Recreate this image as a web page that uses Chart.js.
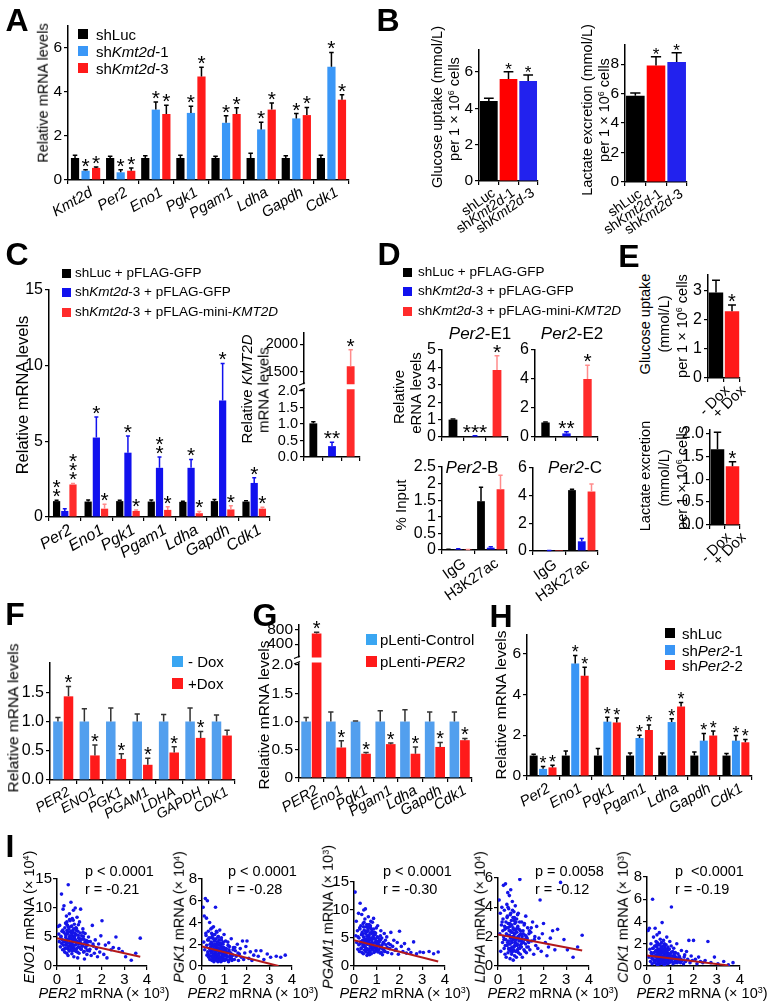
<!DOCTYPE html>
<html>
<head>
<meta charset="utf-8">
<script src="https://cdn.jsdelivr.net/npm/chart.js@4.4.1/dist/chart.umd.min.js"></script>
<style>
  body { margin:0; width:772px; height:1007px; position:relative; overflow:hidden; background:#fff;
         font-family:"Liberation Sans", Arial, Helvetica, sans-serif; }
  canvas { position:absolute; }
  .t { position:absolute; white-space:nowrap; color:#000; line-height:1; }
  .sq { position:absolute; }
  sup { font-size:0.62em; vertical-align:0.5em; line-height:0; }
</style>
</head>
<body>
<script>
// ---------------- data ----------------
// A
const aGenes = ['Kmt2d','Per2','Eno1','Pgk1','Pgam1','Ldha','Gapdh','Cdk1'];
const aLuc = [1,1,1,1,1,1,1,1];
const aLucErr = [0.12,0.08,0.1,0.12,0.08,0.22,0.1,0.12];
const aSh1 = [0.42,0.35,3.2,3.05,2.6,2.3,2.8,5.15];
const aSh1Err = [0.05,0.12,0.35,0.3,0.32,0.32,0.22,0.65];
const aSh3 = [0.55,0.42,3.0,4.7,3.0,3.2,2.95,3.65];
const aSh3Err = [0.04,0.12,0.4,0.42,0.28,0.3,0.35,0.22];
const aStars = ['*','*','*','*','*','*','*','*'];
const aTicks = [0,2,4,6];

// B
const bGroups = ['shLuc','sh_Kmt2d_-1','sh_Kmt2d_-3'];
const bGlucose = [4.4,5.6,5.5];
const bGlucoseErr = [0.15,0.4,0.32];
const bLactate = [5.85,7.9,8.15];
const bLactateErr = [0.2,0.6,0.62];
const bStars = ['','*','*'];

// C
const cGenes = ['Per2','Eno1','Pgk1','Pgam1','Ldha','Gapdh','Cdk1'];
const cGfp = [1.05,1.02,1.05,1.02,1.0,1.05,1.02];
const cGfpErr = [0.05,0.1,0.05,0.1,0.04,0.1,0.05];
const cKd = [0.4,5.25,4.25,3.25,3.25,7.7,2.25];
const cKdErr = [0.15,1.35,1.1,0.72,0.55,2.45,0.35];
const cRescue = [2.15,0.55,0.4,0.47,0.25,0.5,0.55];
const cRescueErr = [0.07,0.3,0.07,0.2,0.12,0.25,0.1];
const cGfpStars = ['**','','','','','',''];
const cKdStars = ['','*','*','**','*','*','*'];
const cRescueStars = ['***','*','*','*','*','*','*'];
const cKmt2d = [1.02,0.33,1600];
const cKmt2dErr = [0.05,0.12,300];
const cKmt2dStars = ['','**','*'];
const cKmt2dTicks = [0,0.5,1,1.5,2,1500,2000];
const cKmt2dTickLabels = ['0.0','0.5','1.0','1.5','2.0','1500','2000'];

// D
const dE1 = [1.0,0.05,3.85];
const dE1Err = [0.03,0.02,0.82];
const dE1Stars = ['','***','*'];
const dE2 = [1.0,0.25,4.0];
const dE2Err = [0.03,0.12,0.95];
const dE2Stars = ['','**','*'];
const dChip = ['IgG','H3K27ac'];
const dBGfp = [0.02,1.47], dBGfpErr = [0.005,0.42];
const dBKd = [0.03,0.07], dBKdErr = [0.01,0.03];
const dBRescue = [0.01,1.83], dBRescueErr = [0.005,0.42];
const dCGfp = [0.02,4.4], dCGfpErr = [0,0.07];
const dCKd = [0.03,0.7], dCKdErr = [0.01,0.2];
const dCRescue = [0.01,4.3], dCRescueErr = [0,0.55];

// E
const eDox = ['- Dox','+ Dox'];
const eGlucose = [2.95,2.3], eGlucoseErr = [0.42,0.22];
const eLactate = [1.65,1.28], eLactateErr = [0.37,0.1];
const eStars = ['','*'];

// F
const fGenes = ['PER2','ENO1','PGK1','PGAM1','LDHA','GAPDH','CDK1'];
const fMinus = [1,1,1,1,1,1,1];
const fMinusErr = [0.07,0.22,0.23,0.13,0.12,0.23,0.11];
const fPlus = [1.43,0.42,0.36,0.26,0.47,0.72,0.76];
const fPlusErr = [0.17,0.18,0.09,0.11,0.1,0.11,0.09];
const fStars = ['*','*','*','*','*','*',''];

// G
const gGenes = ['PER2','Eno1','Pgk1','Pgam1','Ldha','Gapdh','Cdk1'];
const gCtrl = [1,1,1,1,1,1,1];
const gCtrlErr = [0.07,0.17,0.01,0.19,0.21,0.17,0.17];
const gPer2 = [700,0.54,0.43,0.6,0.43,0.55,0.67];
const gPer2Err = [40,0.12,0.02,0.02,0.12,0.08,0.03];
const gStars = ['*','*','*','*','*','*','*'];
const gTicks = [0,0.5,1,1.5,2,400,800];
const gTickLabels = ['0','0.5','1.0','1.5','2.0','400','800'];

// H
const hGenes = ['Per2','Eno1','Pgk1','Pgam1','Ldha','Gapdh','Cdk1'];
const hLuc = [1,1,1,1,1,1,1];
const hLucErr = [0.07,0.22,0.35,0.12,0.12,0.18,0.1];
const hSh1 = [0.35,5.5,2.66,1.86,2.64,1.73,1.73];
const hSh1Err = [0.12,0.4,0.22,0.14,0.16,0.35,0.25];
const hSh2 = [0.42,4.9,2.62,2.25,3.4,1.98,1.65];
const hSh2Err = [0.1,0.42,0.22,0.24,0.2,0.22,0.14];
const hStars = ['*','*','*','*','*','*','*'];

// I  (PER2 per sample, x 10^3) and target genes, same sample order in every list
const iPer2 = [
  0.05,0.08,0.1,0.12,0.15,0.17,0.2,0.22,0.24,0.25,
  0.27,0.28,0.3,0.31,0.33,0.34,0.35,0.36,0.38,0.39,
  0.4,0.41,0.42,0.43,0.44,0.45,0.46,0.47,0.48,0.49,
  0.5,0.51,0.52,0.53,0.54,0.55,0.56,0.57,0.58,0.59,
  0.6,0.61,0.62,0.63,0.64,0.65,0.66,0.67,0.68,0.69,
  0.7,0.71,0.72,0.73,0.74,0.75,0.76,0.77,0.78,0.79,
  0.8,0.81,0.82,0.84,0.85,0.86,0.88,0.89,0.9,0.92,
  0.93,0.95,0.96,0.98,1.0,1.02,1.04,1.05,1.07,1.1,
  1.12,1.15,1.18,1.2,1.22,1.25,1.28,1.3,1.33,1.36,
  1.4,1.44,1.48,1.52,1.57,1.62,1.66,1.7,1.75,1.8,
  1.85,1.9,1.95,2.0,2.08,2.15,2.22,2.3,2.4,2.5,
  2.62,2.75,2.9,3.05,3.3,3.5,3.7,
  0.18,0.21,0.26,0.29,0.32,0.37,0.4,0.42,0.45,0.47,
  0.5,0.52,0.53,0.55,0.57,0.58,0.6,0.62,0.63,0.65,
  0.66,0.68,0.7,0.71,0.73,0.75,0.76,0.78,0.8,0.82,
  0.83,0.85,0.87,0.9,0.91,0.94,0.97,0.99,1.01,1.03,
  1.06,1.08,1.11,1.14,1.17,1.21,1.24,1.27,1.31,1.35,
  0.44,0.56,0.64,0.72,0.86,0.95,1.16,1.38,1.46,1.6];
const iEno1 = [
  6.8,5.5,4.2,7.0,3.3,5.0,12.4,6.0,4.5,2.8,
  9.8,3.6,5.8,10.4,4.2,2.4,6.6,3.1,7.4,4.9,
  5.2,3.8,8.6,2.2,6.1,4.4,3.0,7.0,5.6,1.8,
  14.0,4.6,3.4,6.4,2.6,9.0,5.0,3.9,7.8,4.1,
  5.9,2.9,11.0,4.7,3.5,6.9,2.1,5.3,8.2,3.7,
  4.3,6.2,3.2,9.6,5.1,1.6,4.8,7.2,2.7,5.7,
  3.6,10.0,4.5,6.6,2.5,5.4,3.0,8.4,4.0,1.4,
  6.0,3.3,4.8,2.2,7.6,4.4,3.8,9.8,2.9,5.2,
  3.5,6.4,2.4,4.6,1.2,5.6,3.1,4.0,2.0,3.6,
  5.0,2.6,4.2,1.8,7.0,3.4,2.2,4.5,3.0,1.6,
  3.8,2.4,5.2,7.8,2.0,3.6,1.4,4.0,2.8,3.2,
  5.0,3.0,2.5,1.6,1.0,2.2,4.8,
  5.1,3.9,6.2,4.4,2.9,5.5,3.6,7.2,4.0,5.9,
  3.3,6.7,4.6,2.7,5.2,3.8,4.9,6.0,3.1,5.6,
  4.1,2.6,5.8,3.5,4.7,6.4,3.0,5.0,4.3,2.8,
  5.4,3.7,6.1,4.2,2.4,5.3,3.9,4.8,3.2,5.7,
  4.0,2.9,4.6,3.4,5.1,2.5,4.1,3.3,4.4,2.7,
  7.6,8.0,6.8,7.9,6.5,7.1,5.8,4.2,2.9,3.8];
const iPgk1 = [
  5.4,2.2,4.6,1.5,6.2,3.0,4.4,1.0,6.0,2.4,
  1.2,3.2,0.8,2.6,1.6,4.0,0.6,2.0,1.4,3.4,
  2.2,0.9,1.8,3.0,0.5,2.6,1.3,2.8,0.7,1.9,
  1.1,3.6,1.6,0.4,2.3,1.0,2.9,1.5,0.6,2.0,
  5.4,1.2,0.8,2.5,1.7,0.5,3.1,1.4,0.9,2.2,
  1.6,0.4,2.7,1.1,0.7,1.9,2.4,0.5,1.3,3.3,
  0.8,1.5,2.1,0.4,1.2,2.6,0.9,1.7,0.5,1.4,
  2.0,0.7,1.1,2.9,0.5,1.6,1.0,2.3,0.6,1.3,
  0.9,2.2,0.4,1.5,1.8,0.7,1.2,2.5,0.5,1.0,
  1.7,0.6,1.4,0.9,2.0,0.5,1.1,1.6,0.8,2.3,
  0.6,1.2,1.8,2.3,0.7,1.3,0.5,1.0,1.4,0.9,
  1.4,0.6,1.1,0.8,0.9,0.8,1.0,
  2.8,1.9,1.3,2.4,1.0,1.7,2.6,1.2,2.1,0.8,
  1.5,2.5,1.0,1.9,0.7,2.3,1.3,0.9,1.8,1.1,
  2.0,0.6,1.4,2.2,1.0,1.6,0.8,1.3,2.0,0.7,
  1.2,1.8,0.6,1.5,1.1,0.9,1.7,1.2,0.6,1.4,
  1.0,1.6,0.8,1.2,0.5,1.3,0.9,1.1,0.7,1.0,
  3.5,2.9,3.2,2.7,2.4,2.2,1.9,1.5,1.7,1.2];
const iPgam1 = [
  13.2,5.4,8.0,4.2,6.3,3.0,9.4,5.0,2.6,6.8,
  11.2,4.0,7.2,3.2,5.6,9.2,2.4,6.0,4.6,3.6,
  7.6,2.2,5.2,10.0,3.8,6.4,2.8,4.4,8.4,3.4,
  10.2,5.8,2.5,4.8,7.0,3.1,6.1,1.9,4.3,5.4,
  3.9,6.6,2.3,8.8,4.5,3.0,5.5,7.4,2.0,4.1,
  5.0,2.6,6.9,3.5,8.0,4.7,2.2,5.8,3.3,6.2,
  4.2,7.8,2.9,5.3,3.6,8.5,2.4,4.9,6.0,3.2,
  5.6,2.7,4.4,6.8,3.0,4.0,7.2,2.5,5.0,3.7,
  4.6,2.3,6.3,3.4,5.0,2.0,4.2,3.0,5.8,2.6,
  3.8,5.2,2.4,4.0,3.1,6.0,2.2,3.5,4.6,2.8,
  3.0,4.2,2.1,6.2,3.5,2.6,4.0,2.3,3.0,2.4,
  4.3,2.2,2.5,2.4,2.6,2.2,2.5,
  5.2,3.8,6.6,4.3,3.1,5.7,4.0,7.0,3.5,4.8,
  3.3,6.1,4.5,2.8,5.3,3.9,4.7,6.3,3.0,5.1,
  4.2,2.7,5.9,3.6,4.9,6.6,3.2,4.6,4.0,2.9,
  5.0,3.4,5.8,4.1,2.6,4.8,3.6,4.4,3.1,5.2,
  3.9,2.8,4.3,3.2,4.7,2.4,3.8,3.0,4.1,2.6,
  7.8,7.4,6.9,7.2,6.6,5.9,5.4,4.6,3.3,3.8];
const iLdha = [
  4.5,2.2,3.6,1.0,2.8,4.0,1.6,3.2,5.5,2.0,
  1.2,3.8,2.5,0.8,5.6,1.8,3.0,0.6,2.6,4.2,
  1.4,3.4,2.1,5.0,0.9,2.9,1.7,3.9,1.1,2.4,
  4.8,1.5,2.7,0.5,3.5,1.9,5.2,1.2,2.3,3.1,
  0.8,2.8,1.6,4.4,2.0,1.0,3.3,0.4,2.5,1.8,
  3.7,1.3,2.2,0.7,2.9,1.6,4.1,1.0,2.4,3.0,
  1.9,0.6,3.2,1.4,2.6,1.1,2.0,3.6,0.9,1.7,
  2.5,1.2,5.9,0.8,2.2,1.5,3.0,1.8,0.6,2.4,
  1.6,2.8,1.0,2.1,3.4,0.9,1.9,2.6,1.3,2.2,
  1.1,2.3,1.7,3.0,0.8,2.0,1.4,2.7,1.2,1.9,
  4.5,1.0,2.2,2.9,1.6,0.7,1.3,1.9,2.4,1.1,
  2.5,5.7,1.8,1.1,0.6,1.3,2.1,
  3.0,2.4,1.8,2.7,1.4,2.2,3.3,1.6,2.6,1.2,
  2.1,2.9,1.5,2.4,1.0,2.8,1.7,1.3,2.3,1.9,
  2.6,1.1,2.0,3.1,1.4,2.2,1.6,2.5,1.8,1.0,
  2.3,1.5,2.7,1.2,1.9,2.1,1.4,2.4,1.7,1.3,
  2.0,1.6,2.2,1.1,1.8,1.5,2.0,1.3,1.7,1.6,
  4.0,3.6,3.8,3.3,3.5,3.0,2.9,2.4,2.6,1.8];
const iCdk1 = [
  3.2,0.8,3.4,1.5,0.4,2.0,1.1,0.2,6.0,1.6,
  0.6,2.6,1.2,0.3,1.8,0.9,3.4,0.5,1.4,2.2,
  1.0,0.2,1.7,2.8,0.7,1.3,0.1,2.0,0.9,1.5,
  0.4,1.9,1.1,3.0,0.6,1.4,0.2,2.4,1.0,0.5,
  1.6,0.3,2.1,0.8,1.2,3.9,0.5,1.5,0.2,1.8,
  0.9,2.3,0.4,1.3,0.7,2.0,0.1,1.1,1.6,0.6,
  1.4,0.3,1.9,0.8,2.6,0.5,1.2,0.2,1.7,0.9,
  0.6,1.5,0.3,2.2,1.0,0.4,1.8,5.3,0.7,1.3,
  0.2,1.6,0.9,0.4,1.2,0.6,2.0,0.3,1.1,0.5,
  0.8,0.3,1.4,0.5,0.2,1.0,0.4,1.3,0.6,2.3,
  0.3,0.9,0.5,2.3,0.6,0.2,0.8,0.4,0.3,0.5,
  2.2,0.3,0.8,0.2,0.4,0.1,0.3,
  1.2,0.7,1.6,0.9,0.4,1.3,0.8,1.9,0.5,1.1,
  0.3,1.5,0.9,0.6,1.2,0.4,1.0,1.7,0.6,1.3,
  0.8,0.3,1.4,0.7,1.1,1.8,0.5,0.9,1.2,0.4,
  1.0,0.6,1.5,0.8,0.3,1.1,0.7,0.9,0.5,1.2,
  0.6,0.4,0.9,0.7,1.0,0.3,0.8,0.5,0.7,0.4,
  2.1,1.9,1.6,1.8,1.4,1.5,1.2,0.9,0.6,0.8];
// regression lines: [x0, y0, x1, y1]
const iFitEno1 = [0,4.8,3.7,1.6];
const iFitPgk1 = [0,1.8,3.4,0];
const iFitPgam1 = [0,4.6,3.7,0.8];
const iFitLdha = [0,2.15,3.7,1.05];
const iFitCdk1 = [0,0.95,3.5,0.05];

// ---------------- helpers ----------------
const FONT = '"Liberation Sans", Arial, Helvetica, sans-serif';
Chart.defaults.font.family = FONT;
Chart.defaults.color = '#000';

const BLACK = '#000000', RED = '#ff1a1a';
const A_BLUE = '#3a97f7', B_BLUE = '#2222ee', B_RED = '#ff0000';
const C_BLUE = '#1111ee', C_RED = '#ff2b2b', PINK = '#ff8c8c';
const F_BLUE = '#529fee', H_BLUE = '#3995f5';

const it = g => '_' + g + '_';
const pick = (v, j) => Array.isArray(v) ? v[j] : v;

function richSegs(s) {
  const out = []; let ital = false, sup = false, cur = '';
  for (const ch of s) {
    if (ch === '_' || ch === '^') {
      if (cur) out.push({t: cur, ital, sup});
      cur = '';
      if (ch === '_') ital = !ital; else sup = !sup;
    } else cur += ch;
  }
  if (cur) out.push({t: cur, ital, sup});
  return out;
}

function drawRich(ctx, s, x, y, size, angle) {
  const segs = richSegs(s);
  ctx.save();
  ctx.translate(x, y);
  ctx.rotate(-angle * Math.PI / 180);
  ctx.textBaseline = 'top';
  ctx.fillStyle = '#000';
  const font = g => (g.ital ? 'italic ' : '') + (g.sup ? size * 0.62 : size) + 'px ' + FONT;
  const ws = segs.map(g => { ctx.font = font(g); return ctx.measureText(g.t).width; });
  let cx = -ws.reduce((a, b) => a + b, 0);
  segs.forEach((g, i) => { ctx.font = font(g); ctx.fillText(g.t, cx, g.sup ? -size * 0.1 : 0); cx += ws[i]; });
  ctx.restore();
}

// asterisks sit a few pixels above the bar/error top
function drawStars(ctx, str, x, y, size, vert) {
  ctx.save();
  ctx.font = size + 'px ' + FONT;
  ctx.fillStyle = '#000';
  ctx.textAlign = 'center';
  ctx.textBaseline = 'alphabetic';
  const m = ctx.measureText('*');
  const desc = m.actualBoundingBoxDescent;
  const hgt = m.actualBoundingBoxAscent + desc;
  const base = y - 3 - desc;
  if (vert) for (let k = 0; k < str.length; k++) ctx.fillText('*', x, base - k * (hgt + 1));
  else ctx.fillText(str, x, base);
  ctx.restore();
}

// error bars, stars, axis breaks and rich category labels
const decor = {
  id: 'decor',
  afterDraw(chart) {
    const o = chart.canvas._o;
    if (!o) return;
    const ctx = chart.ctx, ys = chart.scales.y, xs = chart.scales.x, ca = chart.chartArea;
    const tf = o.tf || (v => v);
    if (o.brk != null) {
      const yb = ys.getPixelForValue(o.brk);
      ctx.save();
      ctx.fillStyle = '#fff';
      ctx.fillRect(ca.left - 1.5, yb - 2.5, ca.right - ca.left + 1.5, 5);
      ctx.strokeStyle = '#000'; ctx.lineWidth = 1.2;
      ctx.beginPath();
      ctx.moveTo(ca.left - 5, yb - 1.5); ctx.lineTo(ca.left + 1, yb - 4);
      ctx.moveTo(ca.left - 5, yb + 4); ctx.lineTo(ca.left + 1, yb + 1.5);
      ctx.stroke();
      ctx.restore();
    }
    (o.sets || []).forEach((s, di) => {
      const meta = chart.getDatasetMeta(di);
      meta.data.forEach((el, j) => {
        const v = s.v[j], e = s.e ? s.e[j] : 0;
        let top = el.y;
        if (e) {
          top = ys.getPixelForValue(tf(v + e));
          const cw = el.width * 0.55;
          ctx.save();
          ctx.strokeStyle = pick(s.ec || '#000', j);
          ctx.lineWidth = 1.5;
          ctx.beginPath();
          ctx.moveTo(el.x, el.y); ctx.lineTo(el.x, top);
          ctx.moveTo(el.x - cw / 2, top); ctx.lineTo(el.x + cw / 2, top);
          ctx.stroke();
          ctx.restore();
        }
        const st = s.s && s.s[j];
        if (st) drawStars(ctx, st, el.x, top, o.star || 20, o.vstars);
      });
    });
    if (o.xl) {
      const yl = ca.bottom + (o.xl.dy == null ? 5 : o.xl.dy);
      o.xl.labels.forEach((lab, i) =>
        drawRich(ctx, lab, xs.getPixelForValue(i) + (o.xl.dx || 0), yl, o.xl.size, o.xl.angle));
    }
  }
};

function mkCanvas(x, y, w, h) {
  const c = document.createElement('canvas');
  c.width = w; c.height = h;
  c.style.cssText = `left:${x}px;top:${y}px;width:${w}px;height:${h}px`;
  document.body.appendChild(c);
  return c;
}

function axisStyle() {
  return {
    grid: {drawOnChartArea: false, tickLength: 4, color: '#000', lineWidth: 1.2},
    border: {color: '#000', width: 1.5}
  };
}

function bars(o) {
  const pad = {l: 48, t: 16, r: 6, b: 64};
  const [l, t, r, b] = o.box;
  const w = r - l + pad.l + pad.r, h = b - t + pad.t + pad.b;
  const cv = mkCanvas(l - pad.l, t - pad.t, w, h);
  cv._o = o;
  const tf = o.tf || (v => v);
  const tl = o.tl || o.ticks.map(String);
  new Chart(cv, {
    type: 'bar',
    data: {
      labels: o.labels,
      datasets: o.sets.map(s => ({
        data: s.v.map(tf), backgroundColor: s.c, borderWidth: 0,
        categoryPercentage: o.cat, barPercentage: o.bar
      }))
    },
    options: {
      responsive: false, animation: false, events: [],
      layout: {padding: {top: pad.t, right: pad.r, left: 0, bottom: 0}},
      plugins: {legend: {display: false}, tooltip: {enabled: false}},
      scales: {
        x: Object.assign(axisStyle(), {
          ticks: {display: false},
          afterFit: s => { s.height = pad.b; }
        }),
        y: Object.assign(axisStyle(), {
          min: 0, max: o.max,
          ticks: {font: {size: o.tick || 15.5}, color: '#000', padding: 2, autoSkip: false,
                  callback: (v, i) => tl[i]},
          afterBuildTicks: s => { s.ticks = o.ticks.map(v => ({value: tf(v)})); },
          afterFit: s => { s.width = pad.l; }
        })
      }
    },
    plugins: [decor]
  });
}

function scatter(o) {
  const pad = {l: 34, t: 10, r: 8, b: 24};
  const [l, t, r, b] = o.box;
  const w = r - l + pad.l + pad.r, h = b - t + pad.t + pad.b;
  const cv = mkCanvas(l - pad.l, t - pad.t, w, h);
  const ax = axisStyle();
  new Chart(cv, {
    type: 'scatter',
    data: {
      datasets: [
        {data: iPer2.map((x, i) => ({x, y: o.y[i]})), backgroundColor: '#1414e8',
         pointRadius: 1.8, pointBorderWidth: 0, order: 1},
        {type: 'line', data: [{x: o.fit[0], y: o.fit[1]}, {x: o.fit[2], y: o.fit[3]}],
         borderColor: '#b3191b', borderWidth: 2, pointRadius: 0, order: 0}
      ]
    },
    options: {
      responsive: false, animation: false, events: [],
      layout: {padding: {top: pad.t, right: pad.r, left: 0, bottom: 0}},
      plugins: {legend: {display: false}, tooltip: {enabled: false}},
      scales: {
        x: {type: 'linear', min: 0, max: 4, grid: ax.grid, border: ax.border,
            ticks: {stepSize: 1, font: {size: 15}, color: '#000', padding: 1, maxRotation: 0},
            afterFit: s => { s.height = pad.b; }},
        y: {min: 0, max: o.max, grid: ax.grid, border: ax.border,
            ticks: {stepSize: o.step, font: {size: 15}, color: '#000', padding: 1},
            afterFit: s => { s.width = pad.l; }}
      }
    }
  });
}

function T(html, x, y, size, opt = {}) {
  const d = document.createElement('div');
  d.className = 't';
  d.innerHTML = html;
  d.style.left = x + 'px';
  d.style.top = y + 'px';
  d.style.fontSize = size + 'px';
  if (opt.bold) d.style.fontWeight = 'bold';
  d.style.transform = `translate(${opt.left ? '0' : '-50%'},-50%)` + (opt.rot ? ` rotate(${opt.rot}deg)` : '');
  document.body.appendChild(d);
}

function legend(sqX, txtX, rows, size, sq) {
  rows.forEach(([cy, color, html]) => {
    const s = document.createElement('div');
    s.className = 'sq';
    s.style.cssText = `left:${sqX}px;top:${cy - sq / 2}px;width:${sq}px;height:${sq}px;background:${color}`;
    document.body.appendChild(s);
    T(html, txtX, cy, size, {left: true});
  });
}

// ---------------- panel A ----------------
bars({box: [68, 26, 349, 180], max: 7, ticks: aTicks, labels: aGenes, cat: 0.9, bar: 0.78, star: 21,
  sets: [{v: aLuc, e: aLucErr, c: BLACK},
         {v: aSh1, e: aSh1Err, c: A_BLUE, s: aStars},
         {v: aSh3, e: aSh3Err, c: RED, s: aStars}],
  xl: {labels: aGenes.map(it), angle: 30, size: 15, dx: 2, dy: 5}});
legend(78, 96, [[34, BLACK, 'shLuc'], [51, A_BLUE, 'sh<i>Kmt2d</i>-1'], [68, RED, 'sh<i>Kmt2d</i>-3']], 15, 10);
T('Relative mRNA levels', 43, 93, 14.5, {rot: -90});

// ---------------- panel B ----------------
bars({box: [479, 50, 538, 181], max: 7.2, ticks: [0,2,4,6], labels: bGroups, cat: 1, bar: 0.9, star: 17,
  sets: [{v: bGlucose, e: bGlucoseErr, c: [BLACK, B_RED, B_BLUE], s: bStars}],
  xl: {labels: bGroups, angle: 35, size: 14, dx: 1, dy: 5}});
bars({box: [625, 45, 687, 182], max: 9.3, ticks: [0,2,4,6,8], labels: bGroups, cat: 1, bar: 0.9, star: 17,
  sets: [{v: bLactate, e: bLactateErr, c: [BLACK, B_RED, B_BLUE], s: bStars}],
  xl: {labels: bGroups, angle: 35, size: 14, dx: 1, dy: 5}});
T('Glucose uptake (mmol/L)', 437, 107, 14.5, {rot: -90});
T('per 1 × 10<sup>6</sup> cells', 454, 109, 14.5, {rot: -90});
T('Lactate excretion (mmol/L)', 587, 110, 14.5, {rot: -90});
T('per 1 × 10<sup>6</sup> cells', 604, 110, 14.5, {rot: -90});

// ---------------- panel C ----------------
bars({box: [49, 290, 270, 517], max: 15, ticks: [0,5,10,15], labels: cGenes, cat: 0.78, bar: 0.88,
  star: 21, vstars: true, tick: 16,
  sets: [{v: cGfp, e: cGfpErr, c: BLACK, s: cGfpStars},
         {v: cKd, e: cKdErr, c: C_BLUE, ec: C_BLUE, s: cKdStars},
         {v: cRescue, e: cRescueErr, c: C_RED, ec: PINK, s: cRescueStars}],
  xl: {labels: cGenes.map(it), angle: 30, size: 16, dx: 2, dy: 5}});
const cTf = v => v <= 2.1 ? v : 2.58 + (v - 1500) * 0.84 / 500;
bars({box: [304, 333, 360, 457], max: 3.76, tf: cTf, ticks: cKmt2dTicks, tl: cKmt2dTickLabels,
  labels: ['', '', ''], cat: 1, bar: 0.42, star: 21, tick: 14.5, brk: 2.13,
  sets: [{v: cKmt2d, e: cKmt2dErr, c: [BLACK, C_BLUE, C_RED], ec: ['#000', C_BLUE, PINK], s: cKmt2dStars}]});
legend(62, 75, [[273, BLACK, 'shLuc + pFLAG-GFP'], [292, C_BLUE, 'sh<i>Kmt2d</i>-3 + pFLAG-GFP'],
  [312, C_RED, 'sh<i>Kmt2d</i>-3 + pFLAG-mini-<i>KMT2D</i>']], 13.5, 9);
T('Relative mRNA levels', 22, 395, 16.5, {rot: -90});
T('Relative <i>KMT2D</i>', 246, 389, 15, {rot: -90});
T('mRNA levels', 263, 390, 15, {rot: -90});

// ---------------- panel D ----------------
const dCols = [BLACK, C_BLUE, C_RED], dErrCols = ['#000', C_BLUE, PINK];
bars({box: [442, 350, 508, 437], max: 5, ticks: [0,1,2,3,4,5], labels: ['', '', ''], cat: 1, bar: 0.4, star: 21, tick: 16,
  sets: [{v: dE1, e: dE1Err, c: dCols, ec: dErrCols, s: dE1Stars}]});
bars({box: [535, 350, 598, 437], max: 6, ticks: [0,2,4,6], labels: ['', '', ''], cat: 1, bar: 0.4, star: 21, tick: 16,
  sets: [{v: dE2, e: dE2Err, c: dCols, ec: dErrCols, s: dE2Stars}]});
bars({box: [442, 467, 507, 550], max: 2.5, ticks: [0,0.5,1,1.5,2,2.5], labels: dChip, cat: 0.9, bar: 0.8, tick: 16,
  sets: [{v: dBGfp, e: dBGfpErr, c: BLACK}, {v: dBKd, e: dBKdErr, c: C_BLUE, ec: C_BLUE},
         {v: dBRescue, e: dBRescueErr, c: C_RED, ec: PINK}],
  xl: {labels: dChip, angle: 35, size: 15, dx: 2, dy: 6}});
bars({box: [533, 468, 598, 551], max: 6, ticks: [0,2,4,6], labels: dChip, cat: 0.9, bar: 0.8, tick: 16,
  sets: [{v: dCGfp, e: dCGfpErr, c: BLACK}, {v: dCKd, e: dCKdErr, c: C_BLUE, ec: C_BLUE},
         {v: dCRescue, e: dCRescueErr, c: C_RED, ec: PINK}],
  xl: {labels: dChip, angle: 35, size: 15, dx: 2, dy: 6}});
legend(403, 418, [[272, BLACK, 'shLuc + pFLAG-GFP'], [291, C_BLUE, 'sh<i>Kmt2d</i>-3 + pFLAG-GFP'],
  [311, C_RED, 'sh<i>Kmt2d</i>-3 + pFLAG-mini-<i>KMT2D</i>']], 13.5, 9);
T('<i>Per2</i>-E1', 480, 333, 17);
T('<i>Per2</i>-E2', 572, 333, 17);
T('<i>Per2</i>-B', 472, 467, 17);
T('<i>Per2</i>-C', 575, 467, 17);
T('Relative', 398, 397, 15, {rot: -90});
T('eRNA levels', 415, 393, 15, {rot: -90});
T('% Input', 400, 505, 15, {rot: -90});

// ---------------- panel E ----------------
bars({box: [708, 275, 740, 378], max: 3.55, ticks: [0,1,2,3], labels: eDox, cat: 1, bar: 0.9, star: 20, tick: 16,
  sets: [{v: eGlucose, e: eGlucoseErr, c: [BLACK, RED], s: eStars}],
  xl: {labels: eDox, angle: 45, size: 15, dx: 6, dy: 5}});
bars({box: [710, 430, 740, 525], max: 2.07, ticks: [0,0.5,1,1.5,2], tl: ['0.0','0.5','1.0','1.5','2.0'],
  labels: eDox, cat: 1, bar: 0.9, star: 20, tick: 16,
  sets: [{v: eLactate, e: eLactateErr, c: [BLACK, RED], s: eStars}],
  xl: {labels: eDox, angle: 45, size: 15, dx: 6, dy: 5}});
T('Glucose uptake', 645, 324, 14.5, {rot: -90});
T('(mmol/L)', 664, 324, 14.5, {rot: -90});
T('per 1 × 10<sup>6</sup> cells', 682, 326, 14.5, {rot: -90});
T('Lactate excretion', 645, 476, 14.5, {rot: -90});
T('(mmol/L)', 664, 478, 14.5, {rot: -90});
T('per 1 × 10<sup>6</sup> cells', 682, 478, 14.5, {rot: -90});

// ---------------- panel F ----------------
bars({box: [50, 663, 235, 780], max: 2.0, ticks: [0,0.5,1,1.5], tl: ['0.0','0.5','1.0','1.5'], labels: fGenes,
  cat: 0.8, bar: 0.9, star: 20, tick: 16,
  sets: [{v: fMinus, e: fMinusErr, c: F_BLUE, ec: '#333'},
         {v: fPlus, e: fPlusErr, c: RED, ec: '#333', s: fStars}],
  xl: {labels: fGenes.map(it), angle: 30, size: 14, dx: 2, dy: 5}});
legend(172, 188, [[661, '#3aa6f2', '- Dox'], [683, RED, '+Dox']], 15, 11);
T('Relative mRNA levels', 13, 718, 15.5, {rot: -90});

// ---------------- panel G ----------------
const gTf = v => v <= 2.1 ? v : 2.37 + (v - 400) * 0.25 / 400;
bars({box: [299, 625, 472, 778], max: 2.71, tf: gTf, ticks: gTicks, tl: gTickLabels, labels: gGenes,
  cat: 0.85, bar: 0.92, star: 20, tick: 15.5, brk: 2.09,
  sets: [{v: gCtrl, e: gCtrlErr, c: F_BLUE, ec: '#333'},
         {v: gPer2, e: gPer2Err, c: RED, ec: '#333', s: gStars}],
  xl: {labels: gGenes.map(it), angle: 30, size: 15, dx: 2, dy: 5}});
legend(366, 380, [[639, '#3aa6f2', 'pLenti-Control'], [661, RED, 'pLenti-<i>PER2</i>']], 15, 11);
T('Relative mRNA levels', 264, 715, 15.5, {rot: -90});

// ---------------- panel H ----------------
bars({box: [527, 635, 752, 776], max: 6.9, ticks: [0,2,4,6], labels: hGenes, cat: 0.88, bar: 0.85, star: 18, tick: 15.5,
  sets: [{v: hLuc, e: hLucErr, c: BLACK},
         {v: hSh1, e: hSh1Err, c: H_BLUE, s: hStars},
         {v: hSh2, e: hSh2Err, c: RED, s: hStars}],
  xl: {labels: hGenes.map(it), angle: 30, size: 15, dx: 2, dy: 5}});
legend(665, 682, [[633, BLACK, 'shLuc'], [650, H_BLUE, 'sh<i>Per2</i>-1'], [665, RED, 'sh<i>Per2</i>-2']], 15, 10);
T('Relative mRNA levels', 501, 705, 15.5, {rot: -90});

// ---------------- panel I ----------------
scatter({box: [57, 879, 147, 966], y: iEno1, max: 15, step: 5, fit: iFitEno1});
scatter({box: [202, 879, 292, 966], y: iPgk1, max: 8, step: 2, fit: iFitPgk1});
scatter({box: [354, 882, 445, 966], y: iPgam1, max: 15, step: 5, fit: iFitPgam1});
scatter({box: [498, 878, 589, 966], y: iLdha, max: 6, step: 2, fit: iFitLdha});
scatter({box: [647, 877, 740, 966], y: iCdk1, max: 8, step: 2, fit: iFitCdk1});
const iYTitles = [['<i>ENO1</i> mRNA (× 10<sup>4</sup>)', 29], ['<i>PGK1</i> mRNA (× 10<sup>4</sup>)', 179],
  ['<i>PGAM1</i> mRNA (× 10<sup>3</sup>)', 328], ['<i>LDHA</i> mRNA (× 10<sup>4</sup>)', 480],
  ['<i>CDK1</i> mRNA (× 10<sup>3</sup>)', 623]];
iYTitles.forEach(([h, x]) => T(h, x, 917, 14.5, {rot: -90}));
[104, 253, 405, 553, 702].forEach(x => T('<i>PER2</i> mRNA (× 10<sup>3</sup>)', x, 993, 14.5));
const iStats = [['p &lt; 0.0001', 'r = -0.21', 85], ['p &lt; 0.0001', 'r = -0.28', 228],
  ['p &lt; 0.0001', 'r = -0.30', 383], ['p = 0.0058', 'r = -0.12', 535], ['p&nbsp; &lt;0.0001', 'r = -0.19', 675]];
iStats.forEach(([p, r, x]) => { T(p, x, 871, 14.5, {left: true}); T(r, x, 889, 14.5, {left: true}); });

// ---------------- panel letters ----------------
[['A', 17, 20], ['B', 388, 20], ['C', 17, 254], ['D', 389, 254], ['E', 629, 256],
 ['F', 15, 614], ['G', 265, 615], ['H', 501, 616], ['I', 10, 846]]
  .forEach(([l, x, y]) => T(l, x, y, 32, {bold: true}));
</script>
</body>
</html>
